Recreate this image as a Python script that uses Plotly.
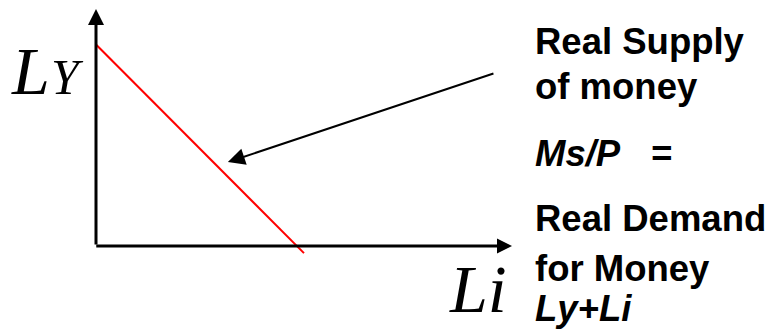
import plotly.graph_objects as go

W, H = 773, 331

# Demand/supply line in diagram units (Li on x, Ly on y)
li_vals = [0.0, 5.0]
ly_vals = [8.5, -0.3]

# Axis extents (diagram units)
x_axis_end = 10.0
y_axis_end = 10.0

# Pointer arrow: tail and tip (diagram units)
pointer_tail = (9.59, 7.30)
pointer_tip = (3.17, 3.54)

right_lines = ["<b>Real Supply</b>", "<b>of money</b>", "<b><i>Ms/P&#160;&#160;&#160;=</i></b>",
               "<b>Real Demand</b>", "<b>for Money</b>", "<b><i>Ly+Li</i></b>"]
right_baselines = [55, 100, 167, 232, 282, 322]

fig = go.Figure()
fig.add_trace(go.Scatter(x=li_vals, y=ly_vals, mode="lines",
                         line=dict(color="#ff0000", width=2), hoverinfo="skip",
                         showlegend=False))

# pixel geometry of plot area
x0_px, x1_px = 96, 512
y_top_px, y_bot_px = 9, 246
xr = [0, 10]
yr = [-0.5, 10]
ppu_y = (y_bot_px - y_top_px) / 10.0
ybottom_px = y_bot_px + 0.5 * ppu_y

fig.update_layout(
    width=W, height=H, margin=dict(l=0, r=0, t=0, b=0),
    paper_bgcolor="white", plot_bgcolor="white",
    xaxis=dict(domain=[x0_px / W, x1_px / W], range=xr, visible=False, fixedrange=True),
    yaxis=dict(domain=[1 - ybottom_px / H, 1 - y_top_px / H], range=yr, visible=False, fixedrange=True),
    showlegend=False,
)

ann = []
# axes arrows
ann.append(dict(x=0, y=y_axis_end, ax=0, ay=0, xref="x", yref="y", axref="x", ayref="y",
                text="", showarrow=True, arrowhead=2, arrowwidth=3, arrowsize=1.07,
                arrowcolor="black", standoff=0, startstandoff=0))
ann.append(dict(x=x_axis_end, y=0, ax=-0.03, ay=0, xref="x", yref="y", axref="x", ayref="y",
                text="", showarrow=True, arrowhead=2, arrowwidth=3, arrowsize=1.0,
                arrowcolor="black", standoff=0, startstandoff=0))
# pointer arrow
ann.append(dict(x=pointer_tip[0], y=pointer_tip[1], ax=pointer_tail[0], ay=pointer_tail[1],
                xref="x", yref="y", axref="x", ayref="y",
                text="", showarrow=True, arrowhead=2, arrowwidth=2, arrowsize=1.7,
                arrowcolor="black", standoff=0, startstandoff=0))

def px_text(text, xpx, baseline, fs, family, desc):
    ybot = baseline + desc * fs + 1
    return dict(x=xpx / W, y=1 - ybot / H, xref="paper", yref="paper", text=text,
                showarrow=False, xanchor="left", yanchor="bottom",
                font=dict(family=family, size=fs, color="black"))

sans = "Arial, Liberation Sans, sans-serif"
serif = "Times New Roman, Liberation Serif, serif"
for t, b in zip(right_lines, right_baselines):
    ann.append(px_text(t, 533, b, 36.5, sans, 0.212))

ann.append(px_text("<i>L</i>", 9, 95, 68, serif, 0.216))
ann.append(px_text("<i>Y</i>", 49, 95, 50, serif, 0.216))
ann.append(px_text("<i>Li</i>", 447, 313, 68, serif, 0.216))

fig.update_layout(annotations=ann)
fig.write_html("out.html", config={"displayModeBar": False, "staticPlot": True},
               post_script="document.body.style.margin='0';document.body.style.overflow='hidden';")
